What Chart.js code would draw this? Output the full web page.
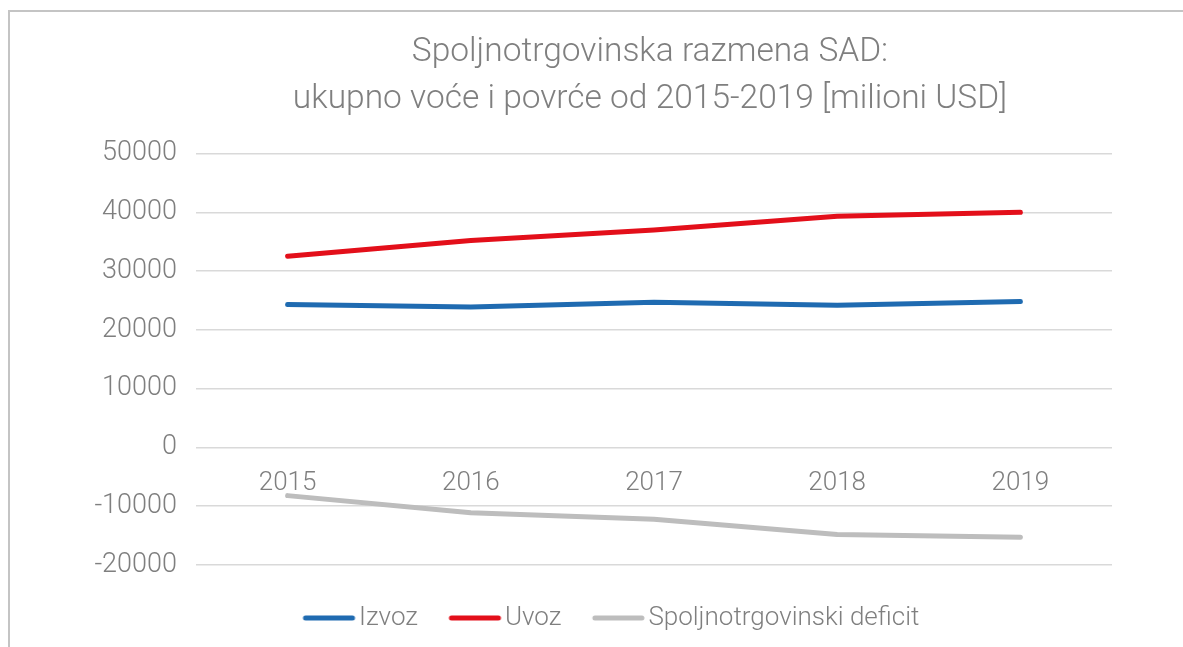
<!DOCTYPE html>
<html>
<head>
<meta charset="utf-8">
<script src="https://cdn.jsdelivr.net/npm/chart.js@4.4.1/dist/chart.umd.min.js"></script>
<style>
  html, body { margin: 0; padding: 0; background: #ffffff; overflow: hidden; }
  #wrap { position: relative; width: 1183px; height: 647px; }
  #frame { position: absolute; left: 8px; top: 10px; width: 1300px; height: 800px;
           border-left: 2px solid #c4c4c4; border-top: 2px solid #c4c4c4; box-sizing: border-box; }
  canvas { position: absolute; left: 0; top: 0; }
</style>
</head>
<body>
<div id="wrap">
  <div id="frame"></div>
  <canvas id="c" width="1183" height="647"></canvas>
</div>
<script>
// ---- data ----
const titleLines = ['Spoljnotrgovinska razmena SAD:', 'ukupno voće i povrće od 2015-2019 [milioni USD]'];
const categories = ['2015', '2016', '2017', '2018', '2019'];
const izvoz   = [24300, 23900, 24700, 24200, 24800];
const uvoz    = [32500, 35200, 37000, 39300, 40000];
const deficit = [-8200, -11100, -12200, -14800, -15300];
const seriesNames = ['Izvoz', 'Uvoz', 'Spoljnotrgovinski deficit'];
const yMin = -20000, yMax = 50000, yStep = 10000;

// ---- styles ----
const colors = ['#1f6bb1', '#e30f1a', '#bdbdbd'];
const textColor = '#7f7f7f';
const fontFamily = 'Roboto, "Open Sans", sans-serif';

function legendImage(color) {
  const cv = document.createElement('canvas');
  cv.width = 80; cv.height = 10;
  const g = cv.getContext('2d');
  g.strokeStyle = color; g.lineWidth = 5; g.lineCap = 'round';
  g.beginPath(); g.moveTo(21, 5); g.lineTo(68, 5); g.stroke();
  return cv;
}

const shiftPlugin = {
  id: 'shiftBoxes',
  afterLayout(chart) {
    const lg = chart.legend;
    if (lg) { const w = lg.right - lg.left; lg.left = 272; lg.right = 272 + w; }
    const tb = chart.titleBlock;
    if (tb) { const w = tb.right - tb.left; tb.left = 650 - w / 2; tb.right = 650 + w / 2; }
  }
};

Chart.defaults.color = textColor;
Chart.defaults.font.family = fontFamily;

const data = [izvoz, uvoz, deficit];
new Chart(document.getElementById('c'), {
  type: 'line',
  data: {
    labels: categories,
    datasets: data.map((d, i) => ({
      label: seriesNames[i],
      data: d,
      borderColor: colors[i],
      backgroundColor: colors[i],
      borderWidth: 5,
      borderCapStyle: 'round',
      borderJoinStyle: 'round',
      pointRadius: 0,
      pointHoverRadius: 0,
      tension: 0,
      fill: false
    }))
  },
  plugins: [shiftPlugin],
  options: {
    responsive: false,
    animation: false,
    events: [],
    layout: { padding: { left: 60, right: 71, top: 0, bottom: 6 } },
    plugins: {
      title: {
        display: true,
        text: titleLines,
        color: textColor,
        font: { size: 33.5, weight: '300', lineHeight: 1.38 },
        padding: { top: 30, bottom: 31 }
      },
      legend: {
        display: true,
        position: 'bottom',
        align: 'start',
        title: { display: true, text: ' ', padding: 0, font: { size: 9, lineHeight: 1 } },
        labels: {
          usePointStyle: true,
          pointStyleWidth: 43,
          padding: 31,
          color: textColor,
          font: { size: 26, weight: '300' },
          generateLabels(chart) {
            const items = Chart.defaults.plugins.legend.labels.generateLabels(chart);
            items.forEach((it, i) => { it.pointStyle = legendImage(colors[i]); });
            return items;
          }
        }
      },
      tooltip: { enabled: false }
    },
    scales: {
      x: {
        position: { y: 0 },
        offset: true,
        grid: { display: false, drawTicks: false },
        border: { display: false },
        ticks: { padding: 20, color: textColor, font: { size: 26, weight: '300' } }
      },
      y: {
        min: yMin,
        max: yMax,
        afterFit(scale) { scale.width = 136; },
        grid: { color: '#d9d9d9', lineWidth: 1.5, drawTicks: false },
        border: { display: false },
        ticks: {
          stepSize: yStep,
          padding: 19,
          color: textColor,
          font: { size: 27, weight: '300' },
          callback: (v) => String(v)
        }
      }
    }
  }
});
</script>
</body>
</html>
